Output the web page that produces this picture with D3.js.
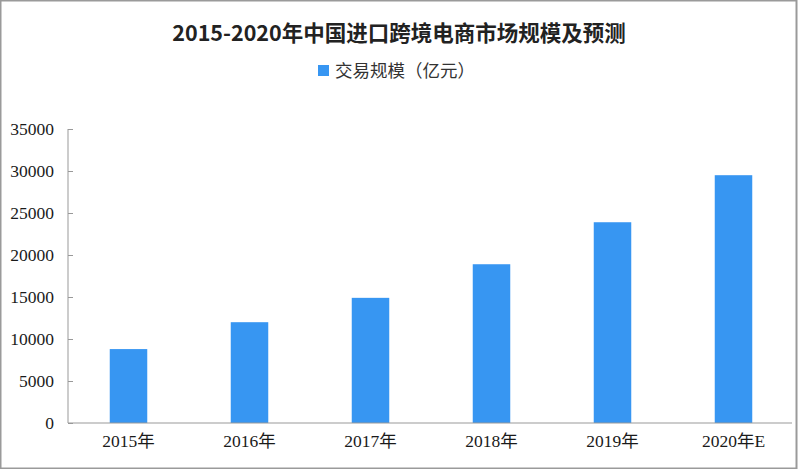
<!DOCTYPE html>
<html><head><meta charset="utf-8">
<script src="https://cdn.jsdelivr.net/npm/d3@7"></script>
<style>body{margin:0;background:#fff;}svg{display:block;}</style>
</head><body>
<svg id="c" width="799" height="469"></svg>
<script>
const categories = ["2015年","2016年","2017年","2018年","2019年","2020年E"];
const values = [8800, 12000, 14900, 18900, 23900, 29500];
const yTicks = [0,5000,10000,15000,20000,25000,30000,35000];
const title = "2015-2020年中国进口跨境电商市场规模及预测";
const seriesName = "交易规模（亿元）";

const svg = d3.select("#c");
const W = 799, H = 469;
const m = {left:68, right:6, top:129, bottom:46};
const x = d3.scaleBand().domain(categories).range([m.left, 794]).paddingInner(0.69).paddingOuter(0.345);
const y = d3.scaleLinear().domain([0,35000]).range([H-m.bottom, m.top]);
const blue = "#3796f2";
const font = "'Liberation Serif','Noto Sans CJK SC',serif";

svg.append("rect").attr("x",0.5).attr("y",0.5).attr("width",W-3).attr("height",H-1)
  .attr("fill","#fff").attr("stroke","#9a9a9a").attr("stroke-width",2);

svg.append("text").attr("x",399).attr("y",41).attr("text-anchor","middle")
  .attr("font-family","'Noto Sans CJK SC',sans-serif").attr("font-weight","bold")
  .attr("font-size",21.5).attr("fill","#222").text(title);

svg.append("rect").attr("x",318).attr("y",65).attr("width",11).attr("height",11).attr("fill",blue);
svg.append("text").attr("x",335).attr("y",77).attr("font-family","'Noto Sans CJK SC',sans-serif")
  .attr("font-size",17.5).attr("fill","#333").text(seriesName);

const ya = svg.append("g").attr("transform",`translate(${m.left},0)`)
  .call(d3.axisLeft(y).tickValues(yTicks).tickSize(-5).tickPadding(14).tickFormat(d3.format("d")));
ya.select(".domain").attr("stroke","#999").attr("d",`M0,${y(35000)}V${y(0)}`);
ya.selectAll(".tick line").attr("stroke","#999");
ya.selectAll(".tick text").attr("font-family",font).attr("font-size",17.5).attr("fill","#1a1a1a");

svg.selectAll("rect.bar").data(values).join("rect").attr("class","bar")
  .attr("x",(d,i)=>x(categories[i])).attr("width",x.bandwidth())
  .attr("y",d=>y(d)).attr("height",d=>y(0)-y(d)).attr("fill",blue);

const xa = svg.append("g").attr("transform",`translate(0,${y(0)})`)
  .call(d3.axisBottom(x).tickSize(0).tickPadding(12));
xa.select(".domain").attr("stroke","#999").attr("d",`M${m.left},0H792`);
xa.selectAll(".tick text").attr("font-family",font).attr("font-size",17.5).attr("fill","#1a1a1a");
</script>
</body></html>
